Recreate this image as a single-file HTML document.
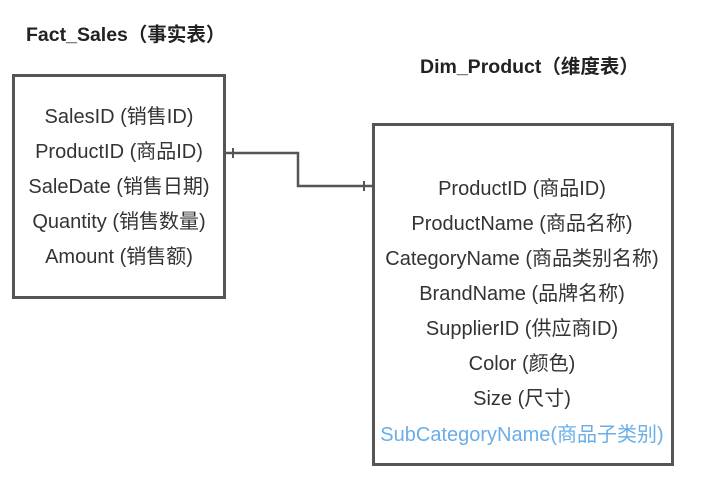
<!DOCTYPE html>
<html><head><meta charset="utf-8"><style>
body{margin:0;width:723px;height:503px;background:#fff;overflow:hidden;position:relative;font-family:"Liberation Sans","Noto Sans CJK SC",sans-serif;color:#333}
.t{position:absolute;font-weight:bold;font-size:19.5px;color:#222;white-space:nowrap;line-height:20px}
.r{position:absolute;font-size:20px;white-space:nowrap;text-align:center;line-height:20px;transform:translateX(-50%)}
</style></head><body>
<svg width="723" height="503" style="position:absolute;left:0;top:0">
<g fill="none" stroke="#555" stroke-width="3">
<rect x="13.5" y="75.5" width="211" height="222"/>
<rect x="373.5" y="124.5" width="299" height="340"/>
<polyline points="225,153 298,153 298,186 372,186" stroke-width="2.5"/>
<line x1="233" y1="148" x2="233" y2="158" stroke-width="2"/>
<line x1="364" y1="181" x2="364" y2="191" stroke-width="2"/>
</g></svg>
<div class="t" style="left:26px;top:25px">Fact_Sales（事实表）</div>
<div class="t" style="left:420px;top:57px">Dim_Product（维度表）</div>
<div class="r" style="left:119px;top:107px">SalesID (销售ID)</div>
<div class="r" style="left:119px;top:142px">ProductID (商品ID)</div>
<div class="r" style="left:119px;top:177px">SaleDate (销售日期)</div>
<div class="r" style="left:119px;top:212px">Quantity (销售数量)</div>
<div class="r" style="left:119px;top:247px">Amount (销售额)</div>
<div class="r" style="left:522px;top:179px">ProductID (商品ID)</div>
<div class="r" style="left:522px;top:214px">ProductName (商品名称)</div>
<div class="r" style="left:522px;top:249px">CategoryName (商品类别名称)</div>
<div class="r" style="left:522px;top:284px">BrandName (品牌名称)</div>
<div class="r" style="left:522px;top:319px">SupplierID (供应商ID)</div>
<div class="r" style="left:522px;top:354px">Color (颜色)</div>
<div class="r" style="left:522px;top:389px">Size (尺寸)</div>
<div class="r" style="left:522px;top:425px;color:#6aaee8">SubCategoryName(商品子类别)</div>
</body></html>
